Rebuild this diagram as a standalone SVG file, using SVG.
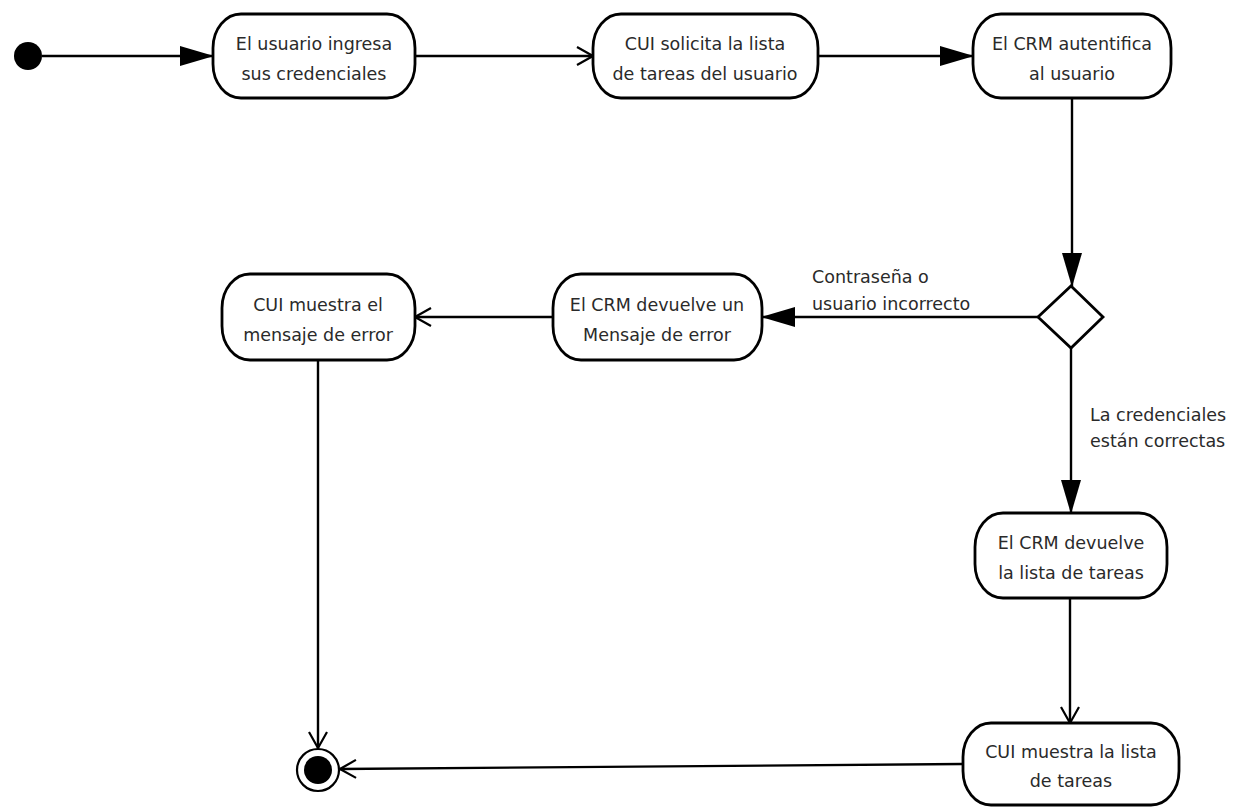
<svg xmlns="http://www.w3.org/2000/svg" width="1242" height="808" viewBox="0 0 1242 808">
  <style>
    .act { fill: #ffffff; stroke: #000000; stroke-width: 2.8; }
    .lbl { font-family: "DejaVu Sans", Verdana, sans-serif; font-size: 17.5px; fill: #2a2a2a; }
    .mid { text-anchor: middle; }
    .edge { fill: none; stroke: #000000; stroke-width: 2.4; }
  </style>
  <defs>
    <marker id="tri" viewBox="0 0 34 20" refX="33" refY="10" markerWidth="34" markerHeight="20" markerUnits="userSpaceOnUse" orient="auto">
      <path d="M0,0 L34,10 L0,20 z" fill="#000000"/>
    </marker>
    <marker id="open" viewBox="0 0 18 22" refX="17" refY="11" markerWidth="18" markerHeight="22" markerUnits="userSpaceOnUse" orient="auto">
      <path d="M1,2 L17,11 L1,20" fill="none" stroke="#000000" stroke-width="2.2"/>
    </marker>
  </defs>
  <rect width="1242" height="808" fill="#ffffff"/>

  <!-- transitions -->
  <g id="connectors">
    <path class="edge" d="M42,56 L213,56" marker-end="url(#tri)"/>
    <path class="edge" d="M415,56 L593,56" marker-end="url(#open)"/>
    <path class="edge" d="M818,56 L973,56" marker-end="url(#tri)"/>
    <path class="edge" d="M1072,98 L1072,286" marker-end="url(#tri)"/>
    <path class="edge" d="M1038,317 L762,317" marker-end="url(#tri)"/>
    <path class="edge" d="M553,317 L415,317" marker-end="url(#open)"/>
    <path class="edge" d="M318,360 L318,748" marker-end="url(#open)"/>
    <path class="edge" d="M1071,348 L1071,513" marker-end="url(#tri)"/>
    <path class="edge" d="M1070,598 L1070,723" marker-end="url(#open)"/>
    <path class="edge" d="M963,764 L340,769" marker-end="url(#open)"/>
    <text class="lbl" x="812" y="283">Contraseña o</text>
    <text class="lbl" x="812" y="310">usuario incorrecto</text>
    <text class="lbl" x="1090" y="421">La credenciales</text>
    <text class="lbl" x="1090" y="447">están correctas</text>
  </g>

  <g id="start">
    <circle cx="28" cy="56" r="14" fill="#000000"/>
  </g>

  <g id="ingresa">
    <rect class="act" x="213" y="14" width="202" height="84" rx="28" ry="34"/>
    <text class="lbl mid" x="314" y="50">El usuario ingresa</text>
    <text class="lbl mid" x="314" y="80">sus credenciales</text>
  </g>

  <g id="solicita">
    <rect class="act" x="593" y="14" width="225" height="84" rx="28" ry="34"/>
    <text class="lbl mid" x="705" y="50">CUI solicita la lista</text>
    <text class="lbl mid" x="705" y="80">de tareas del usuario</text>
  </g>

  <g id="autentifica">
    <rect class="act" x="973" y="14" width="198" height="84" rx="28" ry="34"/>
    <text class="lbl mid" x="1072" y="50">El CRM autentifica</text>
    <text class="lbl mid" x="1072" y="80">al usuario</text>
  </g>

  <g id="decision">
    <path class="act" d="M1071,286 L1103,317 L1071,348 L1038,317 Z"/>
  </g>

  <g id="devuelve-error">
    <rect class="act" x="553" y="274" width="209" height="86" rx="28" ry="34"/>
    <text class="lbl mid" x="657" y="311">El CRM devuelve un</text>
    <text class="lbl mid" x="657" y="341">Mensaje de error</text>
  </g>

  <g id="muestra-error">
    <rect class="act" x="222" y="274" width="193" height="86" rx="28" ry="34"/>
    <text class="lbl mid" x="318" y="311">CUI muestra el</text>
    <text class="lbl mid" x="318" y="341">mensaje de error</text>
  </g>

  <g id="devuelve-lista">
    <rect class="act" x="975" y="513" width="192" height="85" rx="28" ry="34"/>
    <text class="lbl mid" x="1071" y="549">El CRM devuelve</text>
    <text class="lbl mid" x="1071" y="579">la lista de tareas</text>
  </g>

  <g id="muestra-lista">
    <rect class="act" x="963" y="723" width="216" height="82" rx="28" ry="34"/>
    <text class="lbl mid" x="1071" y="758">CUI muestra la lista</text>
    <text class="lbl mid" x="1071" y="787">de tareas</text>
  </g>

  <g id="end">
    <circle cx="318" cy="770" r="21" fill="#ffffff" stroke="#000000" stroke-width="2.2"/>
    <circle cx="318" cy="770" r="14" fill="#000000"/>
  </g>
</svg>
